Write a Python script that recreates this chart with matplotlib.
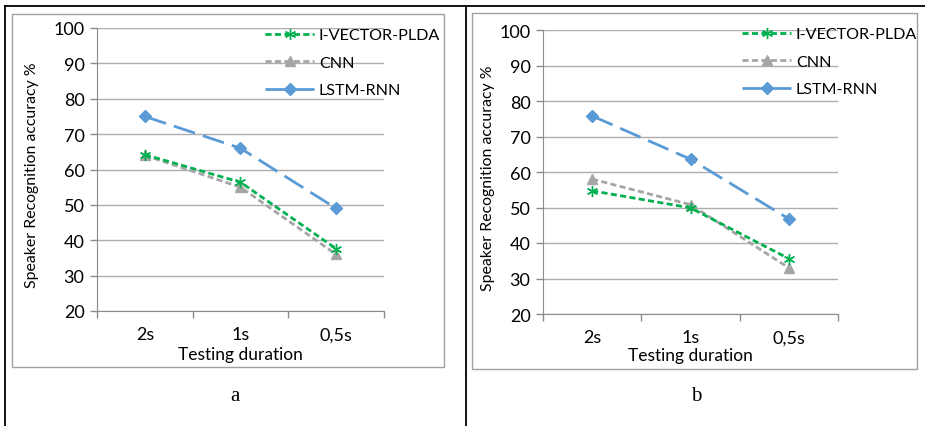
import numpy as np
import matplotlib
matplotlib.use("Agg")
import matplotlib.pyplot as plt
from matplotlib.lines import Line2D
from matplotlib.patches import Rectangle

# categories and values
durations = ["2s", "1s", "0,5s"]
series_names = ["I-VECTOR-PLDA", "CNN", "LSTM-RNN"]

ivector_a = [64.2, 56.4, 37.6]
cnn_a = [64.0, 55.0, 36.0]
lstm_a = [75.0, 66.0, 49.0]

ivector_b = [54.7, 49.9, 35.6]
cnn_b = [58.0, 50.8, 33.0]
lstm_b = [75.8, 63.6, 46.8]

panel_labels = ["a", "b"]
y_ticks = [20, 30, 40, 50, 60, 70, 80, 90, 100]

GREEN = "#00B050"
GRAY = "#A5A5A5"
BLUE = "#5B9BD5"
AXIS = "#8C8C8C"
GRID = "#ADADAD"

plt.rcParams['font.family'] = ['Lato', 'DejaVu Sans']

W, H = 925, 427
fig = plt.figure(figsize=(W / 100, H / 100), dpi=100)


def fx(px):
    return px / W


def fy(py):
    return 1 - py / H


# table borders (black) and chart boxes (gray)
for x0, y0, x1, y1 in [(5, 7, 925, 7), (5, 7, 5, 427), (466, 7, 466, 427)]:
    fig.add_artist(Line2D([fx(x0), fx(x1)], [fy(y0), fy(y1)], color="black", lw=1.3))

for x0, y0, x1, y1 in [(12, 15, 444, 368), (472, 14, 917, 370)]:
    fig.add_artist(Rectangle((fx(x0), fy(y1)), fx(x1 - x0), (y1 - y0) / H,
                             fill=False, edgecolor="#A0A0A0", lw=1.0))


def draw_panel(rect, data, legend_xy, ylabel_xy, xlabel_y, letter_xy, letter):
    ax = fig.add_axes(rect)
    x = np.arange(len(durations))
    iv, cn, ls = data
    ax.plot(x, iv, color=GREEN, lw=2, dashes=(2.2, 1.2), marker=(6, 2, 0),
            ms=8, mew=1.0, label=series_names[0], zorder=4)
    ax.plot(x, cn, color=GRAY, lw=2, dashes=(2.2, 1.2), marker="^",
            ms=7, label=series_names[1], zorder=3)
    ax.plot(x, ls, color=BLUE, lw=2, dashes=(8, 3), marker="D",
            ms=6, label=series_names[2], zorder=5)

    ax.set_xlim(-0.5, len(durations) - 0.5)
    ax.set_ylim(20, 100)
    ax.set_yticks(y_ticks)
    ax.set_xticks(x)
    ax.set_xticklabels(durations)
    ax.set_xticks(np.arange(len(durations) + 1) - 0.5, minor=True)
    ax.tick_params(axis="x", which="major", length=0, pad=11, labelsize=13)
    ax.tick_params(axis="x", which="minor", length=5, color=AXIS, width=1)
    ax.tick_params(axis="y", length=5, color=AXIS, width=1, labelsize=13, pad=4)
    ax.grid(axis="y", color=GRID, lw=1)
    ax.set_axisbelow(True)
    for s in ["top", "right"]:
        ax.spines[s].set_visible(False)
    for s in ["left", "bottom"]:
        ax.spines[s].set_color(AXIS)

    fig.text(fx(ylabel_xy[0]), fy(ylabel_xy[1]), "Speaker Recognition accuracy %",
             rotation=90, ha="center", va="center", fontsize=11.4)
    fig.text(rect[0] + rect[2] / 2, fy(xlabel_y), "Testing duration",
             ha="center", va="center", fontsize=12.5)
    fig.text(fx(letter_xy[0]), fy(letter_xy[1]), letter, ha="center", va="center",
             fontsize=15, family=["Liberation Serif", "DejaVu Serif"])

    ax.legend(loc="upper left", bbox_to_anchor=(fx(legend_xy[0]), fy(legend_xy[1])),
              bbox_transform=fig.transFigure, frameon=False, fontsize=11.6,
              handlelength=3.05, handletextpad=0.3, labelspacing=0.82,
              borderpad=0, borderaxespad=0)
    return ax


draw_panel([fx(97), fy(312), fx(384 - 97), (312 - 29) / H],
           (ivector_a, cnn_a, lstm_a), (265, 29), (32, 175), 355, (235, 397), panel_labels[0])
draw_panel([fx(543), fy(315), fx(838 - 543), (315 - 31) / H],
           (ivector_b, cnn_b, lstm_b), (742, 28), (488, 178), 356, (696, 397), panel_labels[1])

fig.savefig("out.png", dpi=100)
